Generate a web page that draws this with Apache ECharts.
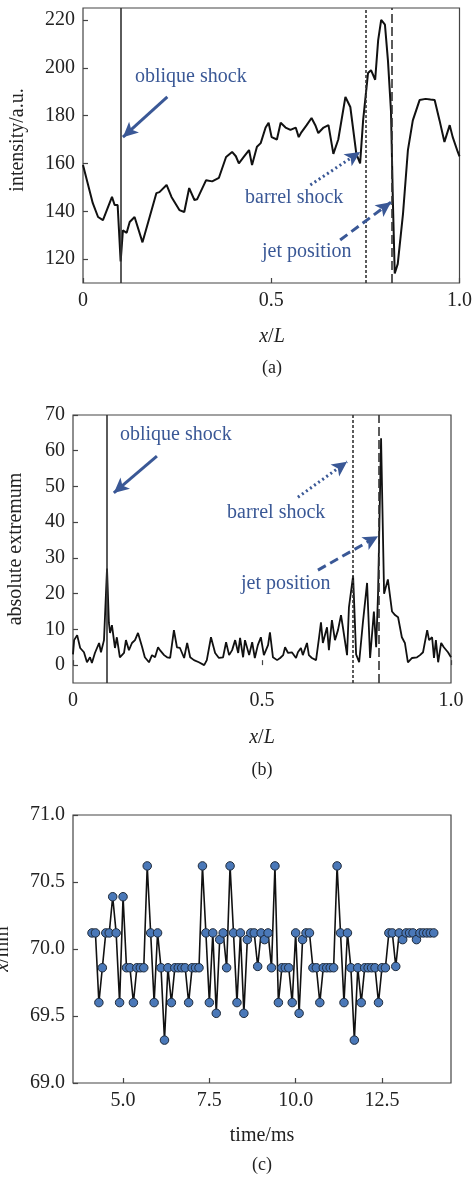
<!DOCTYPE html>
<html><head><meta charset="utf-8">
<script src="https://cdn.jsdelivr.net/npm/echarts@6/dist/echarts.min.js"></script>
<style>html,body{margin:0;padding:0;background:#fff}#c{width:475px;height:1179px}</style>
</head><body><div id="c"></div>
<script>
// ---------- Panel (a): intensity profile ----------
const aX = [0.000,0.026,0.040,0.053,0.077,0.084,0.092,0.100,0.106,0.116,0.124,0.137,0.158,0.177,0.195,0.203,0.222,0.235,0.256,0.269,0.282,0.296,0.303,0.327,0.343,0.361,0.380,0.396,0.406,0.414,0.427,0.441,0.449,0.462,0.472,0.485,0.493,0.501,0.515,0.525,0.538,0.551,0.565,0.573,0.580,0.594,0.607,0.617,0.625,0.639,0.652,0.665,0.678,0.697,0.710,0.726,0.736,0.744,0.757,0.765,0.776,0.784,0.792,0.802,0.810,0.818,0.823,0.828,0.836,0.850,0.863,0.876,0.894,0.910,0.923,0.934,0.947,0.960,0.974,0.982,0.995,1.000];
const aY = [159.3,143.4,137.6,136.3,146,142.6,142.6,119,132,131,135.5,137.6,127,137.6,147.6,148,151,146,140.5,139.7,149.7,144.7,145,153,152.5,154,162.7,164.8,163,160,162.7,165.6,159.3,167,168.5,175,177,171,170,177,175,174,175,171,173,176,179,176,172.7,175,176,164,170,187.8,183.6,164,160,178,197.8,199,195,211.6,220,218,203,182,144.7,114,118,139,165.6,178,186.5,187,186.7,186.5,178,169,176,171,165,163];
const aLines = [0.095, 0.752, 0.823];          // oblique shock, barrel shock, jet position
const aYTicks = [120,140,160,180,200,220];
const xTicksAB = [0, 0.5, 1.0];

// ---------- Panel (b): absolute extremum ----------
const bX = [0.000,0.003,0.011,0.019,0.029,0.037,0.045,0.050,0.058,0.069,0.074,0.082,0.090,0.095,0.098,0.103,0.111,0.116,0.124,0.135,0.140,0.148,0.156,0.164,0.172,0.183,0.190,0.201,0.209,0.217,0.225,0.230,0.241,0.249,0.257,0.267,0.275,0.283,0.294,0.302,0.310,0.320,0.333,0.347,0.354,0.365,0.376,0.386,0.397,0.405,0.413,0.421,0.429,0.437,0.442,0.450,0.455,0.466,0.474,0.481,0.489,0.497,0.505,0.516,0.521,0.529,0.540,0.548,0.556,0.561,0.569,0.579,0.590,0.595,0.603,0.608,0.619,0.624,0.632,0.643,0.651,0.656,0.661,0.672,0.677,0.685,0.693,0.701,0.709,0.714,0.725,0.730,0.741,0.749,0.757,0.767,0.778,0.786,0.796,0.802,0.807,0.815,0.823,0.833,0.844,0.852,0.860,0.870,0.878,0.886,0.897,0.910,0.918,0.926,0.937,0.942,0.950,0.955,0.960,0.966,0.974,0.981,0.992,1.000];
const bY = [3,7,8.4,4.8,3.6,0.8,2.2,0.6,3.4,6.2,3.6,7,27,11.8,9,11.2,4.8,7.8,2.2,3.4,7,4.2,6.2,7,9,5,2.2,0.8,2.8,2.2,5,4.2,2.8,2.2,2,9.8,5,4.8,2,6.2,2.2,1.4,0.8,0,1.4,7.8,3.4,2,2.2,6.4,2.8,4.2,7,3.4,7.6,2.2,7,2.8,6.4,2,5.6,7.8,2.8,5.6,9.2,2.2,1.4,2,2.8,5,3.4,3.6,2,3.6,4.8,2.8,6.2,2.8,2,1.4,7.8,12,6.2,10.6,4.2,12.6,7,9.8,14,10.6,2.8,16.2,25,3,0.8,12,23,2,15,5,20,63.5,20,24,15,14,13.4,7.8,6.2,0.8,2,2.2,2.8,3.6,9.8,7,7.8,2,7,0.8,6.2,5,3.6,2.2];
const bLines = [0.090, 0.743, 0.815];
const bYTicks = [0,10,20,30,40,50,60,70];

// ---------- Panel (c): jet position vs time ----------
const cT = [4.1,4.2,4.3,4.4,4.5,4.6,4.7,4.8,4.9,5.0,5.1,5.2,5.3,5.4,5.5,5.6,5.7,5.8,5.9,6.0,6.1,6.2,6.3,6.4,6.5,6.6,6.7,6.8,6.9,7.0,7.1,7.2,7.3,7.4,7.5,7.6,7.7,7.8,7.9,8.0,8.1,8.2,8.3,8.4,8.5,8.6,8.7,8.8,8.9,9.0,9.1,9.2,9.3,9.4,9.5,9.6,9.7,9.8,9.9,10.0,10.1,10.2,10.3,10.4,10.5,10.6,10.7,10.8,10.9,11.0,11.1,11.2,11.3,11.4,11.5,11.6,11.7,11.8,11.9,12.0,12.1,12.2,12.3,12.4,12.5,12.6,12.7,12.8,12.9,13.0,13.1,13.2,13.3,13.4,13.5,13.6,13.7,13.8,13.9,14.0];
const cV = [70.12,70.12,69.60,69.86,70.12,70.12,70.39,70.12,69.60,70.39,
            69.86,69.86,69.60,69.86,69.86,69.86,70.62,70.12,69.60,70.12,
            69.86,69.32,69.86,69.60,69.86,69.86,69.86,69.86,69.60,69.86,
            69.86,69.86,70.62,70.12,69.60,70.12,69.52,70.07,70.12,69.86,
            70.62,70.12,69.60,70.12,69.52,70.07,70.12,70.12,69.87,70.12,
            70.07,70.12,69.86,70.62,69.60,69.86,69.86,69.86,69.60,70.12,
            69.52,70.07,70.12,70.12,69.86,69.86,69.60,69.86,69.86,69.86,
            69.86,70.62,70.12,69.60,70.12,69.86,69.32,69.86,69.60,69.86,
            69.86,69.86,69.86,69.60,69.86,69.86,70.12,70.12,69.87,70.12,
            70.07,70.12,70.12,70.12,70.07,70.12,70.12,70.12,70.12,70.12];
const cXTicks = [5.0, 7.5, 10.0, 12.5];
const cYTicks = [69.0, 69.5, 70.0, 70.5, 71.0];

// ---------- styling ----------
const FONT = '"Liberation Serif", "Times New Roman", serif';
const BLUE = '#3a5896';
const AX = '#444';
const TXT = '#222';

function pairs(xs, ys){ return xs.map((x,i)=>[x, ys[i]]); }

function xAxisCfg(grid, min, max, ticks, fmt){
  return {type:'value', gridIndex:grid, min:min, max:max,
    axisLine:{show:false}, splitLine:{show:false},
    axisTick:{show:true, inside:true, length:5, lineStyle:{color:AX, width:1.2}, customValues:ticks},
    axisLabel:{customValues:ticks, formatter:fmt, color:TXT, fontFamily:FONT, fontSize:20, margin:8}};
}
function yAxisCfg(grid, min, max, ticks, fmt){
  return {type:'value', gridIndex:grid, min:min, max:max,
    axisLine:{show:false}, splitLine:{show:false},
    axisTick:{show:true, inside:true, length:5, lineStyle:{color:AX, width:1.2}, customValues:ticks},
    axisLabel:{customValues:ticks, formatter:fmt, color:TXT, fontFamily:FONT, fontSize:20, margin:8}};
}
const fmtAB = v => v === 0 ? '0' : v.toFixed(1);
const fmtInt = v => String(Math.round(v));
const fmt1 = v => v.toFixed(1);

function vline(x, type){ return {xAxis:x, lineStyle:{type:type, color:'#333', width:1.6}}; }
function arrow(p0, p1, type){
  return [{coord:p0, symbol:'none', lineStyle:{type:type, color:BLUE, width:3}},
          {coord:p1, symbol:'arrow', symbolSize:[11,15]}];
}

const gridBox = {show:true, borderColor:AX, borderWidth:1.2, backgroundColor:'transparent', containLabel:false};

const option = {
  animation:false,
  backgroundColor:'#fff',
  grid:[
    Object.assign({left:83, top:8, width:379, height:275}, gridBox),
    Object.assign({left:73, top:415, width:378, height:268}, gridBox),
    Object.assign({left:73, top:815, width:378, height:268}, gridBox)
  ],
  xAxis:[
    xAxisCfg(0, 0, 1, xTicksAB, fmtAB),
    xAxisCfg(1, 0, 1, xTicksAB, fmtAB),
    xAxisCfg(2, 3.55, 14.5, cXTicks, fmt1)
  ],
  yAxis:[
    yAxisCfg(0, 110, 225, aYTicks, fmtInt),
    yAxisCfg(1, -5, 70, bYTicks, fmtInt),
    yAxisCfg(2, 69, 71, cYTicks, fmt1)
  ],
  series:[
    {type:'line', xAxisIndex:0, yAxisIndex:0, data:pairs(aX,aY), showSymbol:false, symbol:'none',
     lineStyle:{color:'#111', width:2}, z:3,
     markLine:{silent:true, symbol:['none','none'], label:{show:false}, animation:false,
       data:[vline(aLines[0],'solid'), vline(aLines[1],[3,2]), vline(aLines[2],[9,4]),
             arrow([0.224,187.8],[0.106,171],'solid'),
             arrow([0.604,151],[0.736,164.8],[2,3]),
             arrow([0.683,128],[0.818,143.8],[9,5])]}},
    {type:'line', xAxisIndex:1, yAxisIndex:1, data:pairs(bX,bY), showSymbol:false, symbol:'none',
     lineStyle:{color:'#111', width:1.8}, z:3,
     markLine:{silent:true, symbol:['none','none'], label:{show:false}, animation:false,
       data:[vline(bLines[0],'solid'), vline(bLines[1],[3,2]), vline(bLines[2],[9,4]),
             arrow([0.222,58.5],[0.108,48.2],'solid'),
             arrow([0.595,47],[0.725,56.9],[2,3]),
             arrow([0.648,26.6],[0.807,36.1],[9,5])]}},
    {type:'line', xAxisIndex:2, yAxisIndex:2, data:pairs(cT,cV), symbol:'circle', symbolSize:8.5, showSymbol:true,
     lineStyle:{color:'#111', width:1.6},
     itemStyle:{color:'#4a78b8', borderColor:'#1e2a3a', borderWidth:1}}
  ],
  graphic:[
    // axis titles
    {type:'text', x:18, y:140, rotation:Math.PI/2, style:{text:'intensity/a.u.', font:'20px '+FONT, fill:TXT, align:'center', verticalAlign:'middle'}},
    {type:'text', x:16, y:549, rotation:Math.PI/2, style:{text:'absolute extremum', font:'20px '+FONT, fill:TXT, align:'center', verticalAlign:'middle'}},
    {type:'text', x:3, y:949, rotation:Math.PI/2, style:{text:'{i|x}/mm', font:'20px '+FONT, fill:TXT, align:'center', verticalAlign:'middle', rich:{i:{fontStyle:'italic', font:'italic 20px '+FONT}}}},
    {type:'text', x:272, y:337, style:{text:'{i|x}/{i|L}', font:'20px '+FONT, fill:TXT, align:'center', verticalAlign:'middle', rich:{i:{fontStyle:'italic', font:'italic 20px '+FONT}}}},
    {type:'text', x:262, y:738, style:{text:'{i|x}/{i|L}', font:'20px '+FONT, fill:TXT, align:'center', verticalAlign:'middle', rich:{i:{fontStyle:'italic', font:'italic 20px '+FONT}}}},
    {type:'text', x:262, y:1136, style:{text:'time/ms', font:'20px '+FONT, fill:TXT, align:'center', verticalAlign:'middle'}},
    // panel labels
    {type:'text', x:272, y:368, style:{text:'(a)', font:'18px '+FONT, fill:TXT, align:'center', verticalAlign:'middle'}},
    {type:'text', x:262, y:770, style:{text:'(b)', font:'18px '+FONT, fill:TXT, align:'center', verticalAlign:'middle'}},
    {type:'text', x:262, y:1165, style:{text:'(c)', font:'18px '+FONT, fill:TXT, align:'center', verticalAlign:'middle'}},
    // annotations (a)
    {type:'text', x:135, y:77, style:{text:'oblique shock', font:'20px '+FONT, fill:BLUE, align:'left', verticalAlign:'middle'}},
    {type:'text', x:245, y:198, style:{text:'barrel shock', font:'20px '+FONT, fill:BLUE, align:'left', verticalAlign:'middle'}},
    {type:'text', x:262, y:252, style:{text:'jet position', font:'20px '+FONT, fill:BLUE, align:'left', verticalAlign:'middle'}},
    // annotations (b)
    {type:'text', x:120, y:435, style:{text:'oblique shock', font:'20px '+FONT, fill:BLUE, align:'left', verticalAlign:'middle'}},
    {type:'text', x:227, y:513, style:{text:'barrel shock', font:'20px '+FONT, fill:BLUE, align:'left', verticalAlign:'middle'}},
    {type:'text', x:241, y:584, style:{text:'jet position', font:'20px '+FONT, fill:BLUE, align:'left', verticalAlign:'middle'}}
  ]
};

const chart = echarts.init(document.getElementById('c'), null, {renderer:'canvas'});
chart.setOption(option);
</script>
</body></html>
